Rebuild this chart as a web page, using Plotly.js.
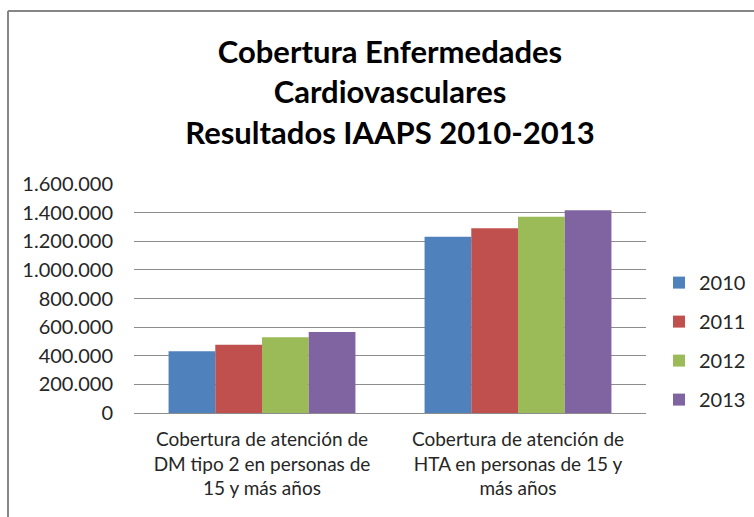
<!DOCTYPE html>
<html>
<head>
<meta charset="utf-8">
<script src="https://cdn.plot.ly/plotly-3.0.1.min.js"></script>
<style>
  html, body { margin: 0; padding: 0; background: #ffffff; }
  #chart { width: 754px; height: 517px; }
</style>
</head>
<body>
<div id="chart"></div>
<script>
const categories = [
  "Cobertura de atención de<br>DM tipo 2 en personas de<br>15 y más años",
  "Cobertura de atención de<br>HTA en personas de 15 y<br>más años"
];
const seriesNames = ["2010", "2011", "2012", "2013"];
const values2010 = [431000, 1232000];
const values2011 = [477000, 1290000];
const values2012 = [529000, 1372000];
const values2013 = [566000, 1416000];
const seriesValues = [values2010, values2011, values2012, values2013];
const colors = ["#4F81BD", "#C0504D", "#9BBB59", "#8064A2"];
const yTicks = [0, 200000, 400000, 600000, 800000, 1000000, 1200000, 1400000, 1600000];

const FONT = "Lato, 'Open Sans', sans-serif";

const traces = seriesNames.map((name, i) => ({
  type: "bar",
  name: name,
  x: categories,
  y: seriesValues[i],
  legendgroup: "g" + i,
  marker: { color: colors[i], line: { width: 0 } },
  hoverinfo: "y+name"
}));

const layout = {
  width: 754,
  height: 517,
  paper_bgcolor: "#ffffff",
  plot_bgcolor: "#ffffff",
  separators: ",.",
  margin: { l: 134, r: 108, t: 184, b: 104, autoexpand: false },
  title: {
    text: "<b>Cobertura Enfermedades<br>Cardiovasculares<br>Resultados IAAPS 2010-2013</b>",
    font: { family: FONT, size: 31, color: "#000000" },
    x: 0.5,
    xanchor: "center",
    xref: "paper",
    y: 1 - 63 / 517,
    yanchor: "top",
    yref: "container"
  },
  barmode: "group",
  bargap: 0.27,
  bargroupgap: 0,
  xaxis: {
    tickfont: { family: FONT, size: 19, color: "#262626" },
    showline: false,
    showgrid: false,
    ticks: "",
    ticklabelstandoff: 13,
    fixedrange: true
  },
  yaxis: {
    range: [0, 1600000],
    tickvals: yTicks,
    tickformat: ",d",
    tickfont: { family: FONT, size: 20, color: "#262626" },
    showgrid: true,
    gridcolor: "#8c8c8c",
    gridwidth: 1,
    zeroline: true,
    zerolinecolor: "#8c8c8c",
    zerolinewidth: 1,
    showline: false,
    ticks: "",
    ticklen: 0,
    ticklabelstandoff: 20,
    fixedrange: true
  },
  legend: {
    xref: "container",
    x: 659 / 754,
    xanchor: "left",
    y: 0.314,
    yanchor: "middle",
    font: { family: FONT, size: 20, color: "#262626" },
    tracegroupgap: 10,
    itemwidth: 30,
    bgcolor: "rgba(0,0,0,0)"
  },
  shapes: [
    {
      type: "line", xref: "paper", yref: "paper",
      x0: (8 - 134) / 512, x1: 2, y0: (413 - 11) / 229, y1: (413 - 11) / 229,
      line: { color: "#868686", width: 2 }
    },
    {
      type: "line", xref: "paper", yref: "paper",
      x0: (8 - 134) / 512, x1: (8 - 134) / 512, y0: -1, y1: (413 - 11) / 229,
      line: { color: "#868686", width: 2 }
    }
  ],
  showlegend: true
};

Plotly.newPlot("chart", traces, layout, { displayModeBar: false, staticPlot: true });
</script>
</body>
</html>
